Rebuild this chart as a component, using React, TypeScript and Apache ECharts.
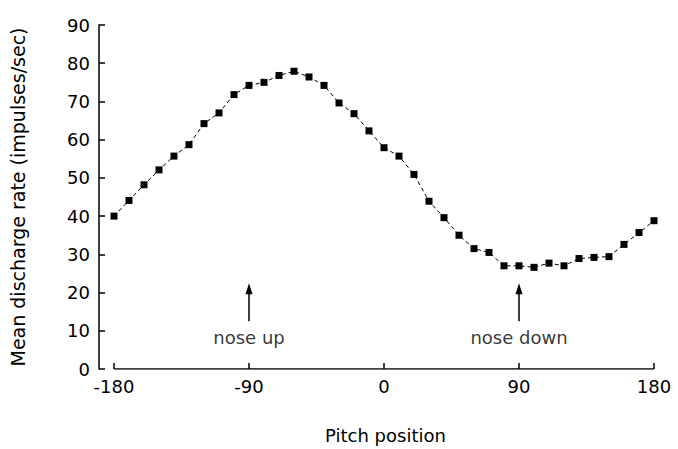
import React, { useEffect, useRef } from "react";
import * as echarts from "echarts";

const pitch = [-180, -170, -160, -150, -140, -130, -120, -110, -100, -90, -80, -70, -60, -50, -40, -30, -20, -10, 0, 10, 20, 30, 40, 50, 60, 70, 80, 90, 100, 110, 120, 130, 140, 150, 160, 170, 180];
const rate = [40.0, 44.1, 48.2, 52.1, 55.7, 58.7, 64.2, 67.0, 71.8, 74.2, 75.0, 76.8, 77.9, 76.4, 74.2, 69.6, 66.8, 62.3, 57.9, 55.7, 50.9, 43.9, 39.6, 35.0, 31.5, 30.5, 27.0, 27.0, 26.6, 27.7, 27.0, 28.9, 29.2, 29.4, 32.6, 35.7, 38.8];
const xTicks = [-180, -90, 0, 90, 180];
const annotations = [
  { x: -90, label: "nose up" },
  { x: 90, label: "nose down" },
];
const arrowFrom = 12.5;
const arrowTo = 21;
const labelY = 8.2;

const FONT = "DejaVu Sans";

export default function App() {
  const ref = useRef<HTMLDivElement>(null);
  useEffect(() => {
    if (!ref.current) return;
    const chart = echarts.init(ref.current, undefined, { renderer: "svg" });
    const seriesData = pitch.map((p, i) => [p, rate[i]]);
    chart.setOption({
      animation: false,
      backgroundColor: "#fff",
      grid: { left: 98, right: 24, top: 25, bottom: 79 },
      xAxis: {
        type: "value",
        min: -190,
        max: 180,
        name: "Pitch position",
        nameLocation: "middle",
        nameGap: 57,
        nameTextStyle: { color: "#000", fontFamily: FONT, fontSize: 18, padding: [0, 0, 0, 18] },
        axisLine: { show: false, onZero: false },
        axisTick: { show: true, inside: true, length: 6, customValues: xTicks, lineStyle: { color: "#000", width: 1.5 } },
        axisLabel: { customValues: xTicks, color: "#000", fontFamily: FONT, fontSize: 18, margin: 8 },
        splitLine: { show: false },
      },
      yAxis: {
        type: "value",
        min: 0,
        max: 90,
        interval: 10,
        name: "Mean discharge rate (impulses/sec)",
        nameLocation: "middle",
        nameGap: 72,
        nameRotate: 90,
        nameTextStyle: { color: "#000", fontFamily: FONT, fontSize: 19 },
        axisLine: { show: true, onZero: false, lineStyle: { color: "#000", width: 1.5 } },
        axisTick: { show: true, inside: true, length: 6, lineStyle: { color: "#000", width: 1.5 } },
        axisLabel: { color: "#000", fontFamily: FONT, fontSize: 18, margin: 9 },
        splitLine: { show: false },
      },
      series: [
        {
          type: "line",
          data: [[xTicks[0], 0], [xTicks[xTicks.length - 1], 0]],
          symbol: "none",
          silent: true,
          lineStyle: { color: "#000", width: 1.5 },
          z: 1,
        },
        {
          type: "line",
          data: seriesData,
          symbol: "rect",
          symbolSize: 7,
          itemStyle: { color: "#000" },
          lineStyle: { color: "#000", width: 1, type: [4, 3] },
          z: 3,
        },
        {
          type: "scatter",
          data: annotations.map((a) => [a.x, labelY, a.label]),
          symbolSize: 0,
          silent: true,
          label: {
            show: true,
            position: "inside",
            formatter: (p: any) => p.value[2],
            color: "#000",
            fontFamily: FONT,
            fontSize: 18,
          },
          markLine: {
            silent: true,
            symbol: ["none", "triangle"],
            symbolSize: [7, 11],
            label: { show: false },
            lineStyle: { color: "#000", width: 1.5, type: "solid" },
            data: annotations.map((a) => [
              { coord: [a.x, arrowFrom] },
              { coord: [a.x, arrowTo] },
            ]),
          },
        },
      ],
    });
    return () => chart.dispose();
  }, []);
  return <div ref={ref} style={{ width: 678, height: 449, position: "absolute", left: 0, top: 0 }} />;
}
